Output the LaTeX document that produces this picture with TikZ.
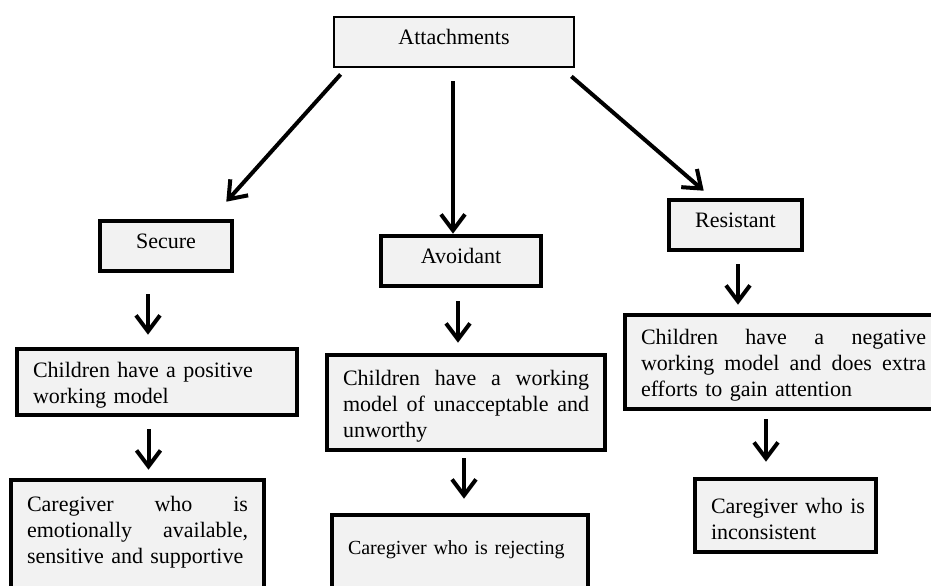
\documentclass[tikz,border=0pt]{standalone}
\usepackage{fontspec}
\setmainfont{Liberation Serif}
\usetikzlibrary{arrows.meta}
\definecolor{boxgray}{HTML}{F2F2F2}

\begin{document}
\begin{tikzpicture}[
    x=0.5pt, y=-0.5pt,
    font=\fontsize{11}{13}\selectfont,
    head/.style={rectangle, draw, fill=boxgray, line width=2.3pt, minimum height=25pt, text depth=5pt},
    infobox/.style={rectangle, draw, fill=boxgray, line width=2.3pt, align=left, inner xsep=8pt,
        execute at begin node={\rule{0pt}{11pt}}},
    link/.style={-{Straight Barb[length=8pt,width=12pt]}, line width=2pt}
]
\useasboundingbox (0,0) rectangle (931,585);
\clip (0,0) rectangle (931,585);

% Top
\node[head, line width=1.4pt, minimum width=120pt] (attach) at (454,42) {Attachments};

% Attachment types
\node[head, minimum width=66pt] (secure) at (166,246) {Secure};
\node[head, minimum width=80pt] (avoid) at (461,261) {Avoidant};
\node[head, minimum width=66.5pt] (resist) at (735.5,225) {Resistant};

% Working models
\node[infobox, text width=124pt, minimum height=33pt] (pos) at (157,382)
    {Children have a positive\\working model};
\node[infobox, text width=123pt, minimum height=47.5pt] (mid) at (466,402.5)
    {Children\hfill have\hfill a\hfill working\\model\hfill of\hfill unacceptable\hfill and\\unworthy};
\node[infobox, text width=142.5pt, minimum height=47pt] (neg) at (783.5,362)
    {Children\hfill have\hfill a\hfill negative\\working\hfill model\hfill and\hfill does\hfill extra\\efforts to gain attention};

% Caregivers
\node[infobox, text width=110.5pt, minimum height=59.5pt] (care1) at (137.5,539.5)
    {Caregiver\hfill who\hfill is\\emotionally\hfill available,\\sensitive and supportive\\\mbox{}};
\node[infobox, font=\fontsize{10}{13}\selectfont, text width=112pt, minimum height=41.5pt] (care2) at (460,556.5)
    {\mbox{Caregiver who is rejecting}\\\mbox{}};
\node[infobox, text width=74.5pt, minimum height=36.5pt] (inc) at (785.5,515.5)
    {\mbox{Caregiver who is}\\inconsistent};

% Arrows from the top box
\draw[link] ([shift={(8,6)}]attach.south west) -- ([shift={(-8,-17)}]secure.north east);
\draw[link, shorten >=6.5pt] ([shift={(-1,13)}]attach.south) -- ([shift={(-1,13)}]attach.south |- avoid.north);
\draw[link] ([shift={(-4,8)}]attach.south east) -- ([shift={(37,-7)}]resist.north west);

% Secure column
\draw[link, shorten <=10.5pt, shorten >=6pt] ([shift={(-18,0)}]secure.south) -- ([shift={(-18,0)}]secure.south |- pos.north);
\draw[link, shorten <=6pt, shorten >=4pt] ([shift={(-8.5,0)}]pos.south) -- ([shift={(-8.5,0)}]pos.south |- care1.north);

% Avoidant column
\draw[link, shorten <=6.5pt, shorten >=5pt] ([shift={(-3,0)}]avoid.south) -- ([shift={(-3,0)}]avoid.south |- mid.north);
\draw[link, shorten <=3pt, shorten >=7pt] ([shift={(-2,0)}]mid.south) -- ([shift={(-2,0)}]mid.south |- care2.north);

% Resistant column
\draw[link, shorten <=6pt, shorten >=4pt] ([shift={(2.5,0)}]resist.south) -- ([shift={(2.5,0)}]resist.south |- neg.north);
\draw[link, shorten <=4pt, shorten >=7.5pt] ([shift={(-19.5,0)}]inc.north |- neg.south) -- ([shift={(-19.5,0)}]inc.north);

\end{tikzpicture}
\end{document}
